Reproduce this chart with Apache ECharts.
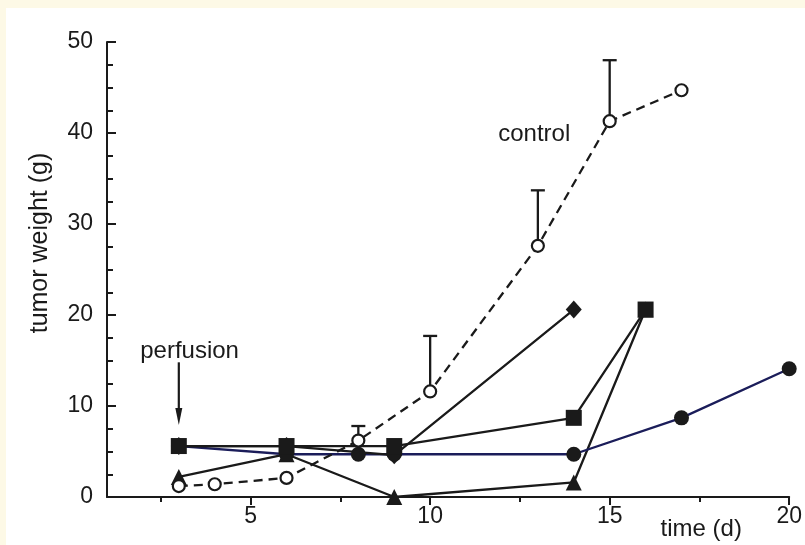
<!DOCTYPE html>
<html>
<head>
<meta charset="utf-8">
<script src="https://cdn.jsdelivr.net/npm/echarts@6/dist/echarts.min.js"></script>
<style>
html,body{margin:0;padding:0;background:#fdf9e6;}
#wrap{position:absolute;left:6px;top:8px;width:799px;height:537px;background:#ffffff;}
#chart{position:absolute;left:-6px;top:-8px;width:805px;height:545px;}
</style>
</head>
<body>
<div id="wrap"><div id="chart"></div></div>
<script>
// ---- data ----
const xMajorTicks = [5, 10, 15, 20];
const xMinorTicks = [2.5, 7.5, 12.5, 17.5];
const yTicks = [0, 10, 20, 30, 40, 50];

const controlX = [3, 4, 6, 8, 10, 13, 15, 17];
const controlY = [1.2, 1.4, 2.1, 6.2, 11.6, 27.6, 41.3, 44.7];
const errorX = [8, 10, 13, 15];
const errorLow = [6.2, 11.6, 27.6, 41.3];
const errorHigh = [7.8, 17.7, 33.7, 48.0];

const squareX = [3, 6, 9, 14, 16];
const squareY = [5.6, 5.6, 5.6, 8.7, 20.6];

const diamondX = [3, 6, 9, 14];
const diamondY = [5.6, 5.6, 4.6, 20.6];

const circleX = [3, 6, 8, 9, 14, 17, 20];
const circleY = [5.6, 4.7, 4.7, 4.7, 4.7, 8.7, 14.1];

const triangleX = [3, 6, 9, 14, 16];
const triangleY = [2.2, 4.7, 0, 1.6, 20.6];

const annotations = {
  perfusion: { text: 'perfusion', at: [3.3, 16.0] },
  control: { text: 'control', at: [12.9, 39.9] },
  time: { text: 'time (d)', at: [17.55, -3.6] }
};
const arrowFrom = [3, 14.8];
const arrowTo = [3, 7.9];

// ---- chart ----
const zip = (xs, ys) => xs.map((x, i) => [x, ys[i]]);
const FONT = '"Liberation Sans", Arial, sans-serif';
const INK = '#1a1a1a';
const NAVY = '#1b1d5a';
const LW = 2.3;

const chart = echarts.init(document.getElementById('chart'), null, { renderer: 'canvas' });

const option = {
  backgroundColor: 'transparent',
  animation: false,
  grid: { left: 107, right: 15, top: 42, bottom: 48, containLabel: false },
  xAxis: [
    {
      type: 'value', min: 1, max: 20,
      axisLine: { show: true, onZero: false, lineStyle: { color: INK, width: 2 } },
      axisTick: { show: true, inside: false, length: 8, lineStyle: { color: INK, width: 2 }, customValues: xMajorTicks },
      axisLabel: { show: true, customValues: xMajorTicks, margin: 8, fontSize: 23, color: INK, fontFamily: FONT },
      splitLine: { show: false }
    },
    {
      type: 'value', min: 1, max: 20, position: 'bottom',
      axisLine: { show: false, onZero: false },
      axisTick: { show: true, inside: false, length: 5, lineStyle: { color: INK, width: 2 }, customValues: xMinorTicks },
      axisLabel: { show: false },
      splitLine: { show: false }
    }
  ],
  yAxis: {
    type: 'value', min: 0, max: 50, interval: 10,
    axisLine: { show: true, lineStyle: { color: INK, width: 2 } },
    axisTick: { show: true, inside: true, length: 9, lineStyle: { color: INK, width: 2 } },
    minorTick: { show: true, splitNumber: 4, length: 6, lineStyle: { color: INK, width: 2 } },
    axisLabel: { margin: 14, fontSize: 23, color: INK, fontFamily: FONT },
    splitLine: { show: false }
  },
  series: [
    {
      name: 'triangle', type: 'line', data: zip(triangleX, triangleY),
      symbol: 'triangle', symbolSize: 16, showSymbol: true, z: 3,
      lineStyle: { color: INK, width: LW }, itemStyle: { color: INK }
    },
    {
      name: 'circle', type: 'line', data: zip(circleX, circleY),
      symbol: 'circle', symbolSize: 15, z: 3,
      lineStyle: { color: NAVY, width: LW }, itemStyle: { color: INK }
    },
    {
      name: 'diamond', type: 'line', data: zip(diamondX, diamondY),
      symbol: 'diamond', symbolSize: [16, 18], z: 4,
      lineStyle: { color: INK, width: LW }, itemStyle: { color: INK }
    },
    {
      name: 'square', type: 'line', data: zip(squareX, squareY),
      symbol: 'rect', symbolSize: 16, z: 5,
      lineStyle: { color: INK, width: LW }, itemStyle: { color: INK }
    },
    {
      name: 'controlErr', type: 'custom', z: 6,
      data: errorX.map((x, i) => [x, errorLow[i], errorHigh[i]]),
      renderItem: function (params, api) {
        const lo = api.coord([api.value(0), api.value(1)]);
        const hi = api.coord([api.value(0), api.value(2)]);
        const cap = 7;
        return {
          type: 'group',
          children: [
            { type: 'line', shape: { x1: lo[0], y1: lo[1], x2: hi[0], y2: hi[1] }, style: { stroke: INK, lineWidth: LW } },
            { type: 'line', shape: { x1: hi[0] - cap, y1: hi[1], x2: hi[0] + cap, y2: hi[1] }, style: { stroke: INK, lineWidth: LW } }
          ]
        };
      }
    },
    {
      name: 'control', type: 'line', data: zip(controlX, controlY),
      symbol: 'circle', symbolSize: 12, z: 7,
      lineStyle: { color: INK, width: LW, type: [9, 6] },
      itemStyle: { color: '#ffffff', borderColor: INK, borderWidth: 2.2 }
    }
  ]
};
chart.setOption(option);

function px(p) { return chart.convertToPixel({ xAxisIndex: 0, yAxisIndex: 0 }, p); }

function buildGraphics() {
  const g = [];
  Object.keys(annotations).forEach(k => {
    const a = annotations[k];
    const p = px(a.at);
    g.push({
      type: 'text', x: p[0], y: p[1], z: 20,
      style: { text: a.text, fontSize: 24, fontFamily: FONT, fill: INK, align: 'center', verticalAlign: 'middle' }
    });
  });
  g.push({
    type: 'text', x: 40, y: 243, rotation: Math.PI / 2, z: 20,
    style: { text: 'tumor weight (g)', fontSize: 25, fontFamily: FONT, fill: INK, align: 'center', verticalAlign: 'middle' }
  });
  const a0 = px(arrowFrom), a1 = px(arrowTo);
  g.push({ type: 'line', shape: { x1: a0[0], y1: a0[1], x2: a1[0], y2: a1[1] - 10 }, style: { stroke: INK, lineWidth: 2.2 }, z: 20 });
  g.push({
    type: 'polygon', z: 20,
    shape: { points: [[a1[0] - 3.5, a1[1] - 17], [a1[0] + 3.5, a1[1] - 17], [a1[0], a1[1]]] },
    style: { fill: INK }
  });
  chart.setOption({ graphic: g });
}
buildGraphics();
</script>
</body>
</html>
